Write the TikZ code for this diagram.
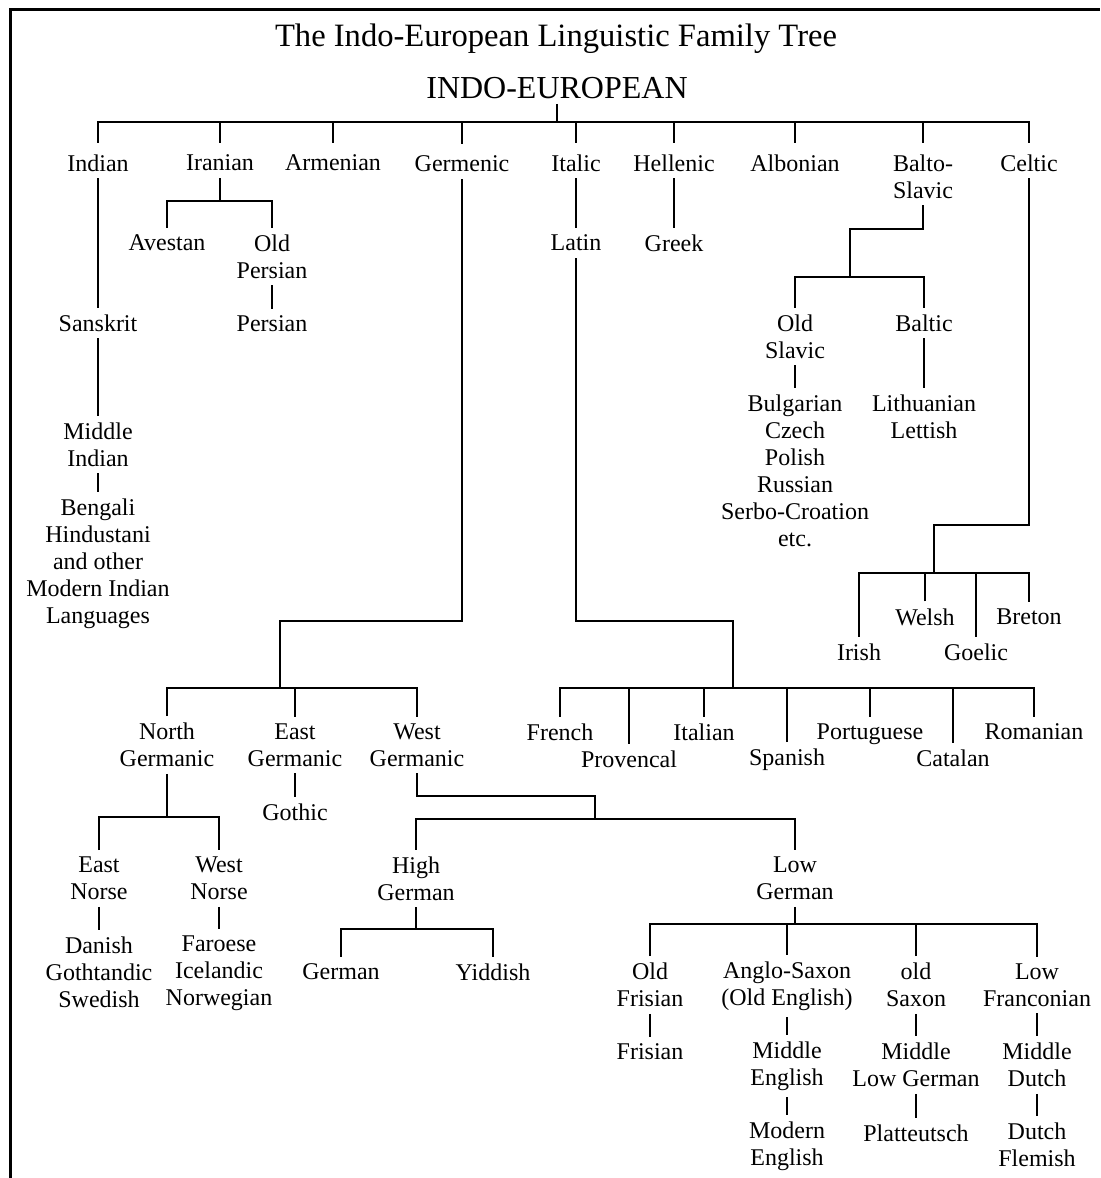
\documentclass[tikz,border=0pt]{standalone}
\usepackage{fontspec}
\setmainfont{Liberation Serif}
\newcommand{\langsize}{\fontsize{12}{13.5}\selectfont}
\newcommand{\headsize}{\fontsize{16}{19}\selectfont}
\newcommand{\titlesize}{\fontsize{16.3}{19}\selectfont}
\tikzset{
  lang/.style={font=\langsize, align=center, inner xsep=1pt, inner ysep=3pt},
  head/.style={font=\headsize, inner sep=2pt},
  title/.style={font=\titlesize, inner sep=2pt},
  branch/.style={line width=1pt},
  frame/.style={line width=1.5pt},
}

\begin{document}
\begin{tikzpicture}[x=0.5pt, y=-0.5pt, branch]
    \useasboundingbox (0,0) rectangle (1100,1178);
    \draw[frame] (10,1178) -- (10,9) -- (1100,9);

    \node[title] (ttl) at (556, 39) {The Indo-European Linguistic Family Tree};
    \node[head] (ie) at (557, 88) {INDO-EUROPEAN};

    \node[lang] (indian)   at (98, 163)    {Indian};
    \node[lang] (iranian)  at (220, 163)   {Iranian};
    \node[lang] (armenian) at (333, 163)   {Armenian};
    \node[lang] (germ)     at (462, 164)   {Germenic};
    \node[lang] (italic)   at (576, 163)   {Italic};
    \node[lang] (hellenic) at (674, 163)   {Hellenic};
    \node[lang] (albonian) at (795, 163)   {Albonian};
    \node[lang] (balto)    at (923, 176.5) {Balto-\\Slavic};
    \node[lang] (celtic)   at (1029, 163)  {Celtic};

    \node[lang] (sanskrit) at (98, 323)   {Sanskrit};
    \node[lang] (midind)   at (98, 444.5) {Middle\\Indian};
    \node[lang] (modind)   at (98, 563.5) {Bengali\\Hindustani\\and other\\Modern Indian\\Languages};

    \node[lang] (avestan)  at (167, 243)   {Avestan};
    \node[lang] (oldpers)  at (272, 256.5) {Old\\Persian};
    \node[lang] (persian)  at (272, 324)   {Persian};

    \node[lang] (latin)    at (576, 243) {Latin};
    \node[lang] (greek)    at (674, 243) {Greek};

    \node[lang] (oldslav)   at (795, 336.5) {Old\\Slavic};
    \node[lang] (baltic)    at (924, 323)   {Baltic};
    \node[lang] (slavlangs) at (795, 471)   {Bulgarian\\Czech\\Polish\\Russian\\Serbo-Croation\\etc.};
    \node[lang] (baltlangs) at (924, 417)   {Lithuanian\\Lettish};

    \node[lang] (welsh)    at (925, 617)  {Welsh};
    \node[lang] (breton)   at (1029, 617) {Breton};
    \node[lang] (irish)    at (859, 652)  {Irish};
    \node[lang] (goelic)   at (976, 652)  {Goelic};

    \node[lang] (french)    at (560, 732)  {French};
    \node[lang] (provencal) at (629, 759)  {Provencal};
    \node[lang] (italian)   at (704, 732)  {Italian};
    \node[lang] (spanish)   at (787, 760)  {Spanish};
    \node[lang] (portug)    at (870, 734)  {Portuguese};
    \node[lang] (catalan)   at (953, 758)  {Catalan};
    \node[lang] (romanian)  at (1034, 732) {Romanian};

    \node[lang] (ngerm)  at (167, 745) {North\\Germanic};
    \node[lang] (egerm)  at (295, 745) {East\\Germanic};
    \node[lang] (wgerm)  at (417, 745) {West\\Germanic};
    \node[lang] (gothic) at (295, 812) {Gothic};

    \node[lang] (enorse)  at (99, 878.5)  {East\\Norse};
    \node[lang] (wnorse)  at (219, 878.5) {West\\Norse};
    \node[lang] (enlangs) at (99, 972)    {Danish\\Gothtandic\\Swedish};
    \node[lang] (wnlangs) at (219, 973)   {Faroese\\Icelandic\\Norwegian};

    \node[lang] (highg)   at (416, 878.5) {High\\German};
    \node[lang] (lowg)    at (795, 878.5) {Low\\German};
    \node[lang] (german)  at (341, 972)   {German};
    \node[lang] (yiddish) at (493, 972)   {Yiddish};

    \node[lang] (ofris)    at (650, 985)  {Old\\Frisian};
    \node[lang] (anglo)    at (787, 986)  {Anglo-Saxon\\(Old English)};
    \node[lang] (osax)     at (916, 985)  {old\\Saxon};
    \node[lang] (lfranc)   at (1037, 985) {Low\\Franconian};
    \node[lang] (frisian)  at (650, 1052)  {Frisian};
    \node[lang] (midengl)  at (787, 1066)  {Middle\\English};
    \node[lang] (mlgerm)   at (916, 1065)  {Middle\\Low German};
    \node[lang] (middutch) at (1037, 1065) {Middle\\Dutch};
    \node[lang] (modengl)  at (787, 1146)  {Modern\\English};
    \node[lang] (platt)    at (916, 1133)  {Platteutsch};
    \node[lang] (dutch)    at (1037, 1145) {Dutch\\Flemish};

    \coordinate (ieb) at (557, 122);
    \coordinate (irb) at (215, 201);
    \coordinate (gk)  at (280, 621);
    \coordinate (gb)  at (280, 688);
    \coordinate (lk)  at (733, 621);
    \coordinate (lb)  at (733, 688);
    \coordinate (bsk) at (850, 229);
    \coordinate (bsb) at (850, 277);
    \coordinate (ck)  at (934, 525);
    \coordinate (cb)  at (934, 573);
    \coordinate (ngb) at (166, 817);
    \coordinate (wk)  at (595, 796);
    \coordinate (wb)  at (595, 819);
    \coordinate (hgb) at (412, 929);
    \coordinate (lgb) at (800, 924);

    \draw (ie.south) -- (ie.south |- ieb);
    \draw ([yshift=2.5pt]indian.north) |- (celtic.north |- ieb) -- ([yshift=2.5pt]celtic.north);
    \foreach \n in {iranian, armenian, germ, italic, hellenic, albonian, balto}
      \draw ([yshift=2.5pt]\n.north) -- (\n.north |- ieb);

    \draw (indian) -- (sanskrit);
    \draw (sanskrit) -- (midind);
    \draw (midind) -- (modind);

    \draw (iranian.south) -- (iranian.south |- irb);
    \draw (avestan.north) |- (oldpers.north |- irb) -- (oldpers.north);
    \draw (oldpers) -- (persian);

    \draw (italic) -- (latin);
    \draw (hellenic) -- (greek);

    \draw (balto.south) |- (bsk) -- (bsb);
    \draw (oldslav.north) |- (baltic.north |- bsb) -- (baltic.north);
    \draw (oldslav) -- (slavlangs);
    \draw (baltic) -- (baltlangs);

    \draw (celtic.south) |- (ck) -- (cb);
    \draw (irish.north) |- (breton.north |- cb) -- (breton.north);
    \foreach \n in {welsh, goelic}
      \draw (\n.north) -- (\n.north |- cb);

    \draw (latin.south) |- (lk) -- (lb);
    \draw (french.north) |- (romanian.north |- lb) -- (romanian.north);
    \foreach \n in {provencal, italian, spanish, portug, catalan}
      \draw (\n.north) -- (\n.north |- lb);

    \draw (germ.south) |- (gk) -- (gb);
    \draw (ngerm.north) |- (wgerm.north |- gb) -- (wgerm.north);
    \draw (egerm.north) -- (egerm.north |- gb);
    \draw (egerm) -- (gothic);

    \draw (ngerm.south) -- (ngerm.south |- ngb);
    \draw (enorse.north) |- (wnorse.north |- ngb) -- (wnorse.north);
    \draw (enorse) -- (enlangs);
    \draw (wnorse) -- (wnlangs);

    \draw (wgerm.south) |- (wk) -- (wb);
    \draw (highg.north) |- (lowg.north |- wb) -- (lowg.north);

    \draw (highg.south) -- (highg.south |- hgb);
    \draw (german.north) |- (yiddish.north |- hgb) -- (yiddish.north);

    \draw (lowg.south) -- (lowg.south |- lgb);
    \draw (ofris.north) |- (lfranc.north |- lgb) -- (lfranc.north);
    \foreach \n in {anglo, osax}
      \draw (\n.north) -- (\n.north |- lgb);
    \draw (ofris) -- (frisian);
    \draw (anglo) -- (midengl);
    \draw (midengl) -- (modengl);
    \draw (osax) -- (mlgerm);
    \draw (mlgerm) -- (platt);
    \draw (lfranc) -- (middutch);
    \draw (middutch) -- (dutch);
\end{tikzpicture}
\end{document}
